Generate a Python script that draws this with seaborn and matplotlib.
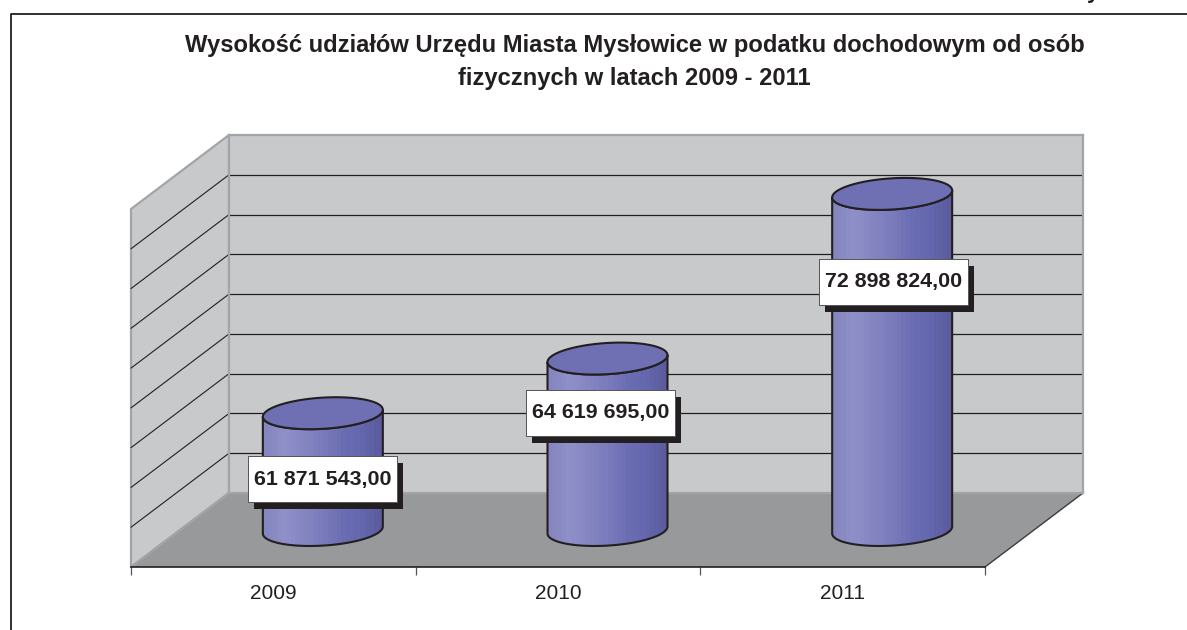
import numpy as np
import pandas as pd
import matplotlib
matplotlib.use('Agg')
import matplotlib.pyplot as plt
import matplotlib.patheffects as pe
from matplotlib.colors import LinearSegmentedColormap
from matplotlib.patches import PathPatch, Polygon, Rectangle
from matplotlib.path import Path
import seaborn as sns

title = 'Wysokość udziałów Urzędu Miasta Mysłowice w podatku dochodowym od osób\nfizycznych w latach 2009 - 2011'
years = ['2009', '2010', '2011']
values = [61871543, 64619695, 72898824]
value_labels = ['61 871 543,00', '64 619 695,00', '72 898 824,00']
axis_min = 56000000
axis_max = 74000000
grid_step = 2000000

W, H = 1187, 630
DARK = '#231f20'
WALL = '#c8c9cb'
WALL_EDGE = '#a3a4a7'
FLOOR = '#98999b'

sns.set_theme(style='white')
plt.rcParams['font.family'] = ['Liberation Sans', 'DejaVu Sans']

fig = plt.figure(figsize=(W / 100, H / 100), dpi=100, facecolor='white')


def plane(x0, x1, y_bottom, y_top, z):
    # axes placed by pixel box
    a = fig.add_axes([x0 / W, 1 - y_bottom / H, (x1 - x0) / W, (y_bottom - y_top) / H], zorder=z)
    a.set_xlim(-0.5, 2.5)
    a.set_ylim(axis_min, axis_max)
    a.patch.set_alpha(0)
    return a


# page frame, side wall and floor in pixel coordinates
bg = fig.add_axes([0, 0, 1, 1], zorder=0)
bg.set_xlim(0, W)
bg.set_ylim(H, 0)
bg.axis('off')
bg.plot([10.5, 10.5, W], [H, 14, 14], color=DARK, lw=1.3)
bg.add_patch(Polygon([(131, 209), (229, 135), (229, 493), (131, 567)], fc=WALL, ec=WALL_EDGE, lw=1.6))
bg.add_patch(Polygon([(131, 567), (229, 493), (1083, 493), (985, 567)], fc=FLOOR, ec='none'))
bg.plot([985, 1083], [567, 493], color='#3c3c3e', lw=1)
bg.plot([131, 229], [567, 493], color=WALL_EDGE, lw=1.6)

grid_values = np.arange(axis_min + grid_step, axis_max, grid_step)
for v in grid_values:
    y = np.interp(v, [axis_min, axis_max], [493, 135])
    bg.plot([131, 229], [y + 74, y], color=DARK, lw=0.8)

# back wall
back = plane(229, 1083, 493, 135, 1)
back.patch.set_alpha(1)
back.set_facecolor(WALL)
back.set_xticks([])
back.set_yticks(grid_values)
back.tick_params(left=False, labelleft=False)
back.grid(axis='y', color=DARK, lw=0.9)
for s in back.spines.values():
    s.set_color(WALL_EDGE)
    s.set_linewidth(1.6)

# category axis on the front edge of the floor
front = plane(131, 985, 567, 209, 2)
front.set_yticks([])
front.set_xticks([-0.5, 0.5, 1.5, 2.5])
front.set_xticklabels([])
front.set_xticks([0, 1, 2], minor=True)
front.set_xticklabels(years, minor=True, fontsize=15, color=DARK)
front.tick_params(axis='x', which='major', bottom=True, length=5.8, width=0.9, color='#555557')
front.tick_params(axis='x', which='minor', bottom=False, pad=8)
for name, s in front.spines.items():
    s.set_visible(name == 'bottom')
front.spines['bottom'].set_color(DARK)
front.spines['bottom'].set_linewidth(1.2)

# cylinders stand on the middle plane of the floor
ax = plane(180.5, 1034.5, 530, 172, 3)
df = pd.DataFrame({'rok': years, 'udzial': values})
sns.barplot(data=df, x='rok', y='udzial', color='#7c7dbc', width=0.4215, saturation=1, ax=ax)
ax.set_xlim(-0.5, 2.5)
ax.set_ylim(axis_min, axis_max)
ax.axis('off')

px_x = 3 / 854
px_y = (axis_max - axis_min) / 358
cyl_cmap = LinearSegmentedColormap.from_list(
    'cyl', ['#8585bf', '#9090c9', '#8585c2', '#7a7bbb', '#6c6eb4', '#6567ae', '#5a5c9e'], N=26)
label_drop = [66, 54, 88]
label_shift = [0, -7, 1]
t = np.linspace(np.pi, 2 * np.pi, 60)

for i, bar in enumerate(ax.patches):
    xc = bar.get_x() + bar.get_width() / 2
    a = bar.get_width() / 2
    top = bar.get_height()
    u = np.cos(t)
    xs = xc + a * u
    low = 3.5 * px_y * u + 15.6 * px_y * np.sin(t)
    body_xy = np.r_[np.c_[xs, axis_min + low], np.c_[xs[::-1], top + low[::-1]], [[xs[0], axis_min + low[0]]]]
    body = PathPatch(Path(body_xy, closed=True), fc='none', ec=DARK, lw=1.5, clip_on=False, zorder=4)
    ax.add_patch(body)
    bar.set_clip_path(body)
    bar.set_clip_box(fig.bbox)
    im = ax.imshow(np.linspace(0, 1, 26)[None, :], extent=(xc - a, xc + a, axis_min - 20 * px_y, top + 20 * px_y),
                   cmap=cyl_cmap, aspect='auto', interpolation='nearest', zorder=3)
    im.set_clip_path(body)
    im.set_clip_box(fig.bbox)
    # top ellipse
    tt = np.linspace(0, 2 * np.pi, 120)
    cap = np.c_[xc + a * np.cos(tt), top + 3.5 * px_y * np.cos(tt) + 15.6 * px_y * np.sin(tt)]
    ax.add_patch(Polygon(cap, fc='#6f70b4', ec=DARK, lw=1.5, clip_on=False, zorder=5))
    # value label box with hard shadow
    lx = xc + label_shift[i] * px_x
    ly = top - label_drop[i] * px_y
    box = Rectangle((lx - 74.5 * px_x, ly - 23 * px_y), 149 * px_x, 46 * px_y, fc='white', ec='#55555a', lw=0.7,
                    clip_on=False, zorder=6)
    box.set_path_effects([pe.withSimplePatchShadow(offset=(4.3, -5), shadow_rgbFace=DARK, alpha=1), pe.Normal()])
    ax.add_patch(box)
    ax.text(lx, ly, value_labels[i], ha='center', va='center', fontsize=15.4, fontweight='bold', color=DARK, zorder=7)
ax.set_xlim(-0.5, 2.5)
ax.set_ylim(axis_min, axis_max)

fig.text(634.5 / W, 1 - 62 / H, title, ha='center', va='center', fontsize=17.1, fontweight='bold', color=DARK,
         linespacing=1.52, zorder=10)
# tail of a letter from the page header, cut off by the top edge
fig.text(1093 / W, 1 + 2 / H, 'y', ha='center', va='baseline', fontsize=16, fontweight='bold', color=DARK)

plt.savefig('out.png', dpi=100)
